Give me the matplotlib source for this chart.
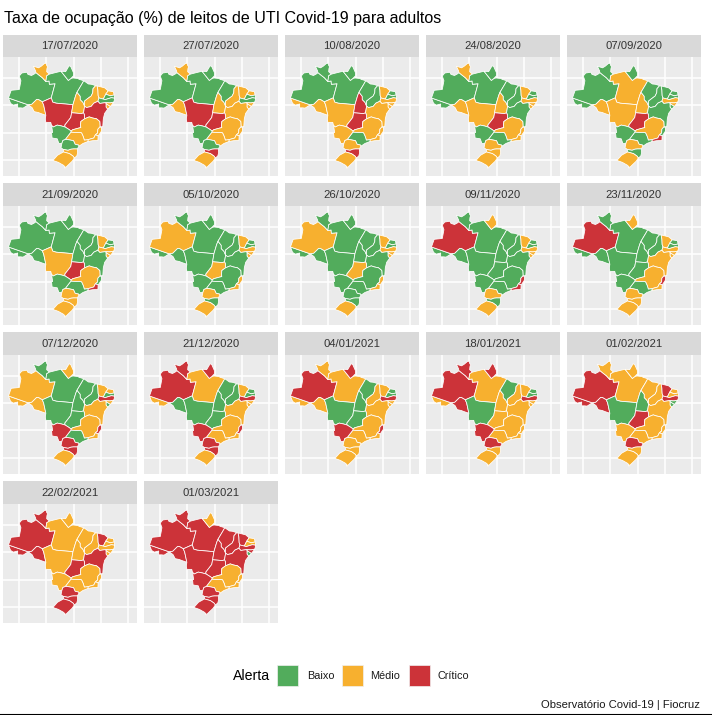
import matplotlib
matplotlib.use("Agg")
import matplotlib.pyplot as plt
from matplotlib.patches import Rectangle

plt.rcParams['font.family'] = ['Liberation Sans', 'DejaVu Sans']

W, H = 712, 715
TITLE = "Taxa de ocupação (%) de leitos de UTI Covid-19 para adultos"
CAPTION = "Observatório Covid-19 | Fiocruz"
LEGEND_TITLE = "Alerta"
LEGEND_LABELS = ["Baixo", "Médio", "Crítico"]
COLORS = {"G": "#52AC5C", "M": "#F7B02F", "C": "#CC3339"}

DATES = ["17/07/2020", "27/07/2020", "10/08/2020", "24/08/2020", "07/09/2020",
         "21/09/2020", "05/10/2020", "26/10/2020", "09/11/2020", "23/11/2020",
         "07/12/2020", "21/12/2020", "04/01/2021", "18/01/2021", "01/02/2021",
         "22/02/2021", "01/03/2021"]

# State outlines (lon, lat), simplified by hand
AC = [(-74,-7.4),(-66.7,-9.9),(-68.6,-11.1),(-69.6,-11),(-70.6,-11),(-70.6,-9.6),(-72.2,-10),(-73.2,-9.4)]
AM = [(-74,-7.4),(-73,-4.6),(-70,-4.3),(-69.4,-1.1),(-70,0.6),(-69.1,1.7),(-67.2,2),(-66.8,1.2),(-65.5,0.8),(-64.2,1.5),(-63.9,1.9),(-62.8,1),(-61.5,0),(-60.2,-1.4),(-59,-1.2),(-58.9,-2.4),(-56.8,-2.2),(-58.2,-7.35),(-61.5,-8.8),(-62.9,-8),(-63.6,-7.95),(-65.4,-9.7),(-66.7,-9.9)]
RR = [(-60.7,5.2),(-60.1,5.27),(-59.9,4.5),(-59.6,4),(-59.8,3.3),(-59.9,2.2),(-58.9,1.3),(-59.9,0.7),(-60.2,-1.4),(-61.5,0),(-62.8,1),(-63.9,1.9),(-64,2.5),(-64.8,4.2),(-62.9,3.6),(-61.9,4.2)]
PA = [(-58.9,1.3),(-56.5,1.9),(-54.6,2.35),(-51.9,-1),(-51,-0.3),(-50.2,-0.1),(-48.4,-0.3),(-47.9,-0.6),(-46.2,-1.1),(-47,-2.5),(-48.7,-5.3),(-49.2,-6.5),(-50.2,-9.85),(-56.4,-9.3),(-57.7,-8.9),(-58.2,-7.35),(-56.8,-2.2),(-58.9,-2.4),(-59,-1.2),(-60.2,-1.4),(-59.9,0.7)]
AP = [(-54.6,2.35),(-52.9,2.2),(-51.6,4.4),(-51,4),(-50,1.8),(-50,0.7),(-51,-0.3),(-51.9,-1)]
RO = [(-66.7,-9.9),(-65.4,-9.7),(-63.6,-7.95),(-62.9,-8),(-61.5,-8.8),(-61,-10),(-60.2,-13.7),(-62,-13.1),(-63,-12.7),(-64.5,-12.4),(-65.3,-10.9)]
MT = [(-58.2,-7.35),(-57.7,-8.9),(-56.4,-9.3),(-50.2,-9.85),(-50.7,-12.8),(-51,-14.5),(-52,-15.8),(-53.2,-17.3),(-53.1,-18),(-54.5,-17.6),(-56,-17.3),(-57.5,-18),(-58.1,-17.4),(-58.4,-16.3),(-60.2,-16.3),(-60.4,-15.1),(-60.2,-13.7),(-61,-10),(-61.5,-8.8)]
TO = [(-48.7,-5.3),(-47.5,-6.8),(-47.5,-8),(-46.5,-9),(-45.9,-10.4),(-46.3,-12.8),(-47,-13.1),(-50.7,-12.8),(-50.2,-9.85),(-49.2,-6.5)]
MA = [(-46.2,-1.1),(-44.5,-2.3),(-43.4,-2.4),(-41.8,-2.9),(-42.8,-4),(-42.9,-5.5),(-43.5,-6.7),(-45,-7.8),(-46,-8.6),(-45.9,-10.4),(-46.5,-9),(-47.5,-8),(-47.5,-6.8),(-48.7,-5.3),(-47,-2.5)]
PI = [(-41.8,-2.9),(-41.3,-3),(-41,-4.5),(-40.9,-6.5),(-40.6,-7.4),(-41,-8.6),(-42.5,-9.3),(-43.5,-10.5),(-45.2,-10.9),(-45.9,-10.4),(-46,-8.6),(-45,-7.8),(-43.5,-6.7),(-42.9,-5.5),(-42.8,-4)]
CE = [(-41.3,-3),(-38.5,-3.7),(-37.2,-4.8),(-38.1,-6),(-38.6,-7),(-39,-7.8),(-40.6,-7.4),(-40.9,-6.5),(-41,-4.5)]
RN = [(-37.2,-4.8),(-35.3,-5.1),(-35,-6.3),(-36.5,-6.6),(-38.1,-6)]
PB = [(-38.6,-7),(-38.1,-6),(-36.5,-6.6),(-35,-6.3),(-34.8,-7.5),(-36,-7.3),(-37,-7.6),(-38.3,-8),(-39,-7.8)]
PE = [(-41,-8.6),(-40.6,-7.4),(-39,-7.8),(-38.3,-8),(-37,-7.6),(-36,-7.3),(-34.8,-7.5),(-35.1,-8.9),(-36.5,-9.2),(-38.2,-9.1),(-40.3,-9.4)]
AL = [(-38.2,-9.1),(-36.5,-9.2),(-35.1,-8.9),(-36.4,-10.5),(-38,-9.5)]
SE = [(-38,-9.5),(-36.4,-10.5),(-37.4,-11.5),(-38,-10.7)]
BA = [(-46.3,-12.8),(-45.9,-10.4),(-45.2,-10.9),(-43.5,-10.5),(-42.5,-9.3),(-41,-8.6),(-40.3,-9.4),(-38.2,-9.1),(-38,-9.5),(-38,-10.7),(-37.4,-11.5),(-38.5,-13),(-39,-15),(-39.2,-17.9),(-40.2,-17.9),(-40.3,-16),(-41.5,-15),(-43,-14.7),(-44.2,-14.3),(-45.9,-15),(-46,-13.5)]
GO = [(-50.7,-12.8),(-47,-13.1),(-46.3,-12.8),(-46,-13.5),(-45.9,-15),(-47.3,-16),(-47.4,-17.5),(-47.3,-18.2),(-48.5,-18.5),(-50.3,-19),(-50.9,-19.5),(-51.5,-19),(-53.1,-18),(-53.2,-17.3),(-52,-15.8),(-51,-14.5)]
MG = [(-45.9,-15),(-44.2,-14.3),(-43,-14.7),(-41.5,-15),(-40.3,-16),(-40.2,-17.9),(-41,-18.8),(-41.1,-20.2),(-41.9,-20.8),(-42.5,-22),(-44.6,-22.6),(-46,-22.8),(-46.4,-21.5),(-47,-20.2),(-47.4,-20),(-49,-20),(-51,-19.9),(-50.9,-19.5),(-50.3,-19),(-48.5,-18.5),(-47.3,-18.2),(-47.4,-17.5),(-47.3,-16)]
ES = [(-40.2,-17.9),(-39.7,-18.3),(-39.7,-19.5),(-40.9,-21.3),(-41.9,-20.8),(-41.1,-20.2),(-41,-18.8)]
RJ = [(-41.9,-20.8),(-40.9,-21.3),(-41,-22.9),(-43,-23),(-44.7,-23.3),(-44.6,-22.6),(-42.5,-22)]
SP = [(-51,-19.9),(-49,-20),(-47.4,-20),(-47,-20.2),(-46.4,-21.5),(-46,-22.8),(-44.6,-22.6),(-44.7,-23.3),(-46.5,-24),(-48,-25),(-48.1,-24.6),(-49.4,-24.3),(-50,-23),(-52,-22.6),(-53.1,-22.6)]
MS = [(-53.1,-18),(-54.5,-17.6),(-56,-17.3),(-57.5,-18),(-58.1,-17.4),(-57.7,-20),(-58.1,-20.1),(-57.9,-22),(-56,-22.3),(-55.4,-24),(-54.3,-24),(-53.9,-22.9),(-53.1,-22.6),(-51,-19.9),(-50.9,-19.5),(-51.5,-19)]
PR = [(-53.1,-22.6),(-52,-22.6),(-50,-23),(-49.4,-24.3),(-48.1,-24.6),(-48,-25),(-48.6,-26),(-50,-26),(-51,-26.1),(-52,-26.5),(-53.7,-26.2),(-54.6,-25.6),(-54.3,-24),(-53.9,-22.9)]
SC = [(-48.6,-26),(-48.5,-27.5),(-48.8,-28.6),(-49.7,-29.3),(-50.2,-28.6),(-51.5,-27.7),(-53.7,-27.1),(-53.7,-26.2),(-52,-26.5),(-51,-26.1),(-50,-26)]
RS = [(-53.7,-27.1),(-51.5,-27.7),(-50.2,-28.6),(-49.7,-29.3),(-50.5,-30.5),(-52.1,-32),(-53.2,-33.1),(-53.4,-32.8),(-53.1,-32.5),(-53.8,-31.9),(-55.6,-30.9),(-57.6,-30.2),(-55.9,-28.3)]

STATES = [AC, AM, RR, PA, AP, RO, MT, TO, MA, PI, CE, RN, PB, PE, AL, SE, BA, GO, MG, ES, RJ, SP, MS, PR, SC, RS]
# Alert level per state, one string per date, same order as STATES
#          AC AM RR PA AP RO MT TO MA PI CE RN PB PE AL SE BA GO MG ES RJ SP MS PR SC RS
ALERTS = ["G G M G G M C M G M M M G G M M C C M M M M G G M M",
          "G G M G G M C M G M M M G G M M M C M M M M G G C M",
          "M G G G G M M C G G M G G M M M M C M M M G M M C M",
          "G G M G G M M M G G M G G M M M G C M M M G G M M M",
          "G G G M G M M M G G G G G M M G G C M G C G G M G M",
          "G G G G G G M G G G M G G M M M G C M G C G G M M M",
          "G M G G G G G G G G M G G M M M G M G M M G G M G M",
          "G M G G G G G G G G M G G M M M G M G M M G G G G M",
          "G C G G M G G G G G M G G M M M G G G C C G G M G M",
          "G C G G M G G G G G M G G M M M M G M C M G G M M M",
          "M M G G M M G G G G M M G C M G M G M C M G C C C M",
          "M C C M C G G G G G M G G C M M M G M C M M C C C M",
          "M C M M C M G G G M M G G C M M M G M C M M C M M M",
          "M C C M C C G M G M M G G C M M M M M M M M C C M M",
          "C C M M M C G G M M C M M C G G M C M M M M M C M M",
          "C C C M M C M M M M C M M M M M C C M M M M M C C C",
          "C C C C M C C C C C C M M C C G C C M M M M C C C C"]

PX, PY = 2.71, 2.74
LON0, LAT0, XG, YG = -70, 0, 19.3, 77.7
COLS = [3, 144, 285, 426, 567]
ROWS = [(35, 57, 176), (183, 206, 325), (332, 355, 474), (481, 504, 623)]
PW = 134

fig = plt.figure(figsize=(W/100, H/100), dpi=100, facecolor="white")

def box(x0, y0, x1, y1):
    return [x0/W, 1-y1/H, (x1-x0)/W, (y1-y0)/H]

for i, (date, row) in enumerate(zip(DATES, ALERTS)):
    x0 = COLS[i % 5]
    st, top, bot = ROWS[i // 5]
    ax = fig.add_axes(box(x0, top, x0+PW, bot), facecolor="#EBEBEB")
    ax.set_xlim(LON0-(XG-3)/PX, LON0-(XG-3)/PX+PW/PX)
    ax.set_ylim(LAT0-(bot-top-(YG-57))/PY, LAT0+(YG-57)/PY)
    ax.set_xticks([-70, -60, -50, -40, -30])
    ax.set_yticks([0, -10, -20, -30])
    ax.tick_params(length=0, labelbottom=False, labelleft=False)
    ax.grid(color="white", lw=1.1)
    ax.set_axisbelow(True)
    for s in ax.spines.values():
        s.set_visible(False)
    for poly, lv in zip(STATES, row.split()):
        ax.fill(*zip(*poly), facecolor=COLORS[lv], edgecolor="white", lw=0.55, joinstyle="round", zorder=3)
    sx = fig.add_axes(box(x0, st, x0+PW, top), facecolor="#D9D9D9")
    sx.set_xticks([]); sx.set_yticks([])
    for s in sx.spines.values():
        s.set_visible(False)
    sx.text(0.5, 0.48, date, ha="center", va="center", fontsize=8.1, color="#333333", transform=sx.transAxes)

fig.text(4/W, 1-19/H, TITLE, fontsize=11.5, color="black", ha="left", va="center")
fig.text(233/W, 1-676/H, LEGEND_TITLE, fontsize=10.2, ha="left", va="center")
for x, lab, key, tx in zip([277, 342, 409], LEGEND_LABELS, ["G", "M", "C"], [307, 370, 438]):
    fig.add_artist(Rectangle((x/W, 1-686/H), 21/W, 21/H, transform=fig.transFigure,
                             facecolor=COLORS[key], edgecolor="#F0F0F0", lw=0.5))
    fig.text(tx/W, 1-676/H, lab, fontsize=7.8, ha="left", va="center", color="#1A1A1A")
fig.text(700/W, 1-705/H, CAPTION, fontsize=8.1, ha="right", va="center", color="#1A1A1A")
fig.add_artist(plt.Line2D([0, 1], [0.5/H, 0.5/H], color="black", lw=1.5, transform=fig.transFigure))
fig.savefig("out.png", dpi=100)
